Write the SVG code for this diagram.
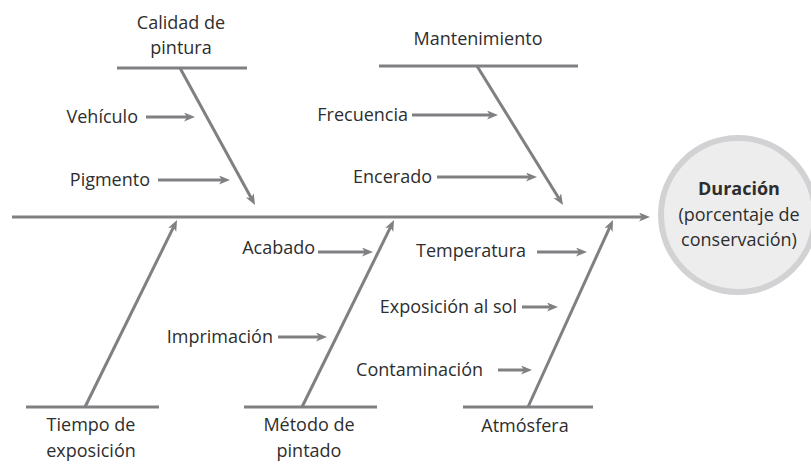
<svg xmlns="http://www.w3.org/2000/svg" width="811" height="465" viewBox="0 0 811 465">
<defs>
<marker id="ah" markerUnits="userSpaceOnUse" markerWidth="12" markerHeight="10" refX="3" refY="4.5" orient="auto">
<path d="M0,0 L11,4.5 L0,9 L3,4.5 Z" fill="#808083"/>
</marker>
<style>
.ln{stroke:#808083;stroke-width:3;fill:none}
.ar{stroke:#808083;stroke-width:3;fill:none;marker-end:url(#ah)}
text{font-family:"Open Sans","DejaVu Sans",sans-serif;font-size:18px;fill:#2e2e2e}
.c{text-anchor:middle}
.e{text-anchor:end}
.b{font-weight:bold}
</style>
</defs>
<rect width="811" height="465" fill="#ffffff"/>
<g id="connectors">
<line class="ar" x1="12" y1="217" x2="642" y2="217"/>
<line class="ar" x1="180" y1="68" x2="251.2" y2="198"/>
<line class="ar" x1="477" y1="66" x2="558.8" y2="198.2"/>
<line class="ar" x1="85" y1="407" x2="173.5" y2="227.2"/>
<line class="ar" x1="302" y1="407" x2="390.5" y2="227.2"/>
<line class="ar" x1="528" y1="407" x2="609.7" y2="227.3"/>
<line class="ar" x1="146" y1="117" x2="187" y2="117"/>
<line class="ar" x1="158" y1="180" x2="222" y2="180"/>
<line class="ar" x1="412" y1="115" x2="490" y2="115"/>
<line class="ar" x1="437" y1="177" x2="529" y2="177"/>
<line class="ar" x1="318" y1="252" x2="365" y2="252"/>
<line class="ar" x1="278" y1="337" x2="319" y2="337"/>
<line class="ar" x1="537" y1="252" x2="579" y2="252"/>
<line class="ar" x1="522" y1="307" x2="550" y2="307"/>
<line class="ar" x1="498" y1="370" x2="524" y2="370"/>
</g>
<g id="calidad">
<line class="ln" x1="117" y1="68" x2="247" y2="68"/>
<text class="c" x="181" y="29">Calidad de</text>
<text class="c" x="181" y="54">pintura</text>
</g>
<g id="mantenimiento">
<line class="ln" x1="379" y1="66" x2="578" y2="66"/>
<text class="c" x="478" y="45">Mantenimiento</text>
</g>
<g id="tiempo">
<line class="ln" x1="26" y1="407" x2="159" y2="407"/>
<text class="c" x="91" y="431">Tiempo de</text>
<text class="c" x="91" y="457">exposición</text>
</g>
<g id="metodo">
<line class="ln" x1="244" y1="407" x2="377" y2="407"/>
<text class="c" x="309" y="431">Método de</text>
<text class="c" x="309" y="457">pintado</text>
</g>
<g id="atmosfera">
<line class="ln" x1="463" y1="407" x2="593" y2="407"/>
<text class="c" x="525" y="432">Atmósfera</text>
</g>
<g id="vehiculo"><text class="e" x="138" y="123">Vehículo</text></g>
<g id="pigmento"><text class="e" x="150" y="186">Pigmento</text></g>
<g id="frecuencia"><text class="e" x="408" y="121">Frecuencia</text></g>
<g id="encerado"><text class="e" x="432" y="183">Encerado</text></g>
<g id="acabado"><text class="e" x="315" y="254">Acabado</text></g>
<g id="imprimacion"><text class="e" x="273" y="343">Imprimación</text></g>
<g id="temperatura"><text class="e" x="526" y="257">Temperatura</text></g>
<g id="exposicion-sol"><text class="e" x="517" y="313">Exposición al sol</text></g>
<g id="contaminacion"><text class="e" x="483" y="376">Contaminación</text></g>
<g id="duracion">
<circle cx="738" cy="215" r="77" fill="#ededee" stroke="#d2d2d4" stroke-width="6"/>
<text class="c b" x="739" y="195">Duración</text>
<text class="c" x="739" y="221">(porcentaje de</text>
<text class="c" x="739" y="246">conservación)</text>
</g>
</svg>
